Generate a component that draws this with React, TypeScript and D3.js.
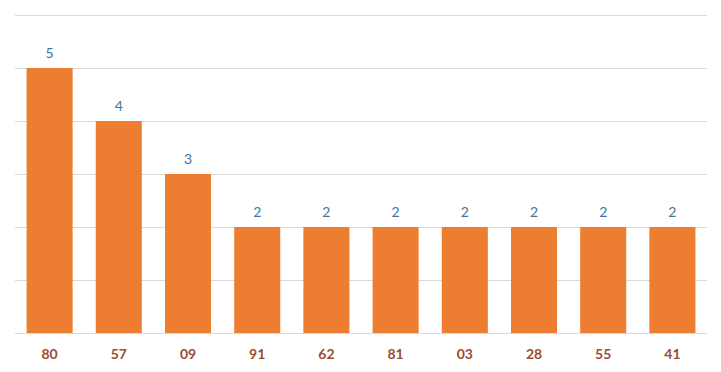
import * as d3 from 'd3'

const categories = ['80', '57', '09', '91', '62', '81', '03', '28', '55', '41']
const counts = [5, 4, 3, 2, 2, 2, 2, 2, 2, 2]
const yTicks = [0, 1, 2, 3, 4, 5, 6]

const width = 721
const height = 372
const margin = { top: 15, right: 14, bottom: 39, left: 15 }

export default function App() {
  const innerWidth = width - margin.left - margin.right
  const innerHeight = height - margin.top - margin.bottom

  const x = d3.scaleBand<string>()
    .domain(categories)
    .range([0, innerWidth])
    .paddingInner(0.335)
    .paddingOuter(0.1675)

  const y = d3.scaleLinear()
    .domain([0, 6])
    .range([innerHeight, 0])

  const font = 'Lato, "Open Sans", sans-serif'

  return (
    <svg
      width={width}
      height={height}
      style={{ position: 'absolute', left: 0, top: 0, display: 'block', background: '#fff' }}
    >
      <g transform={`translate(${margin.left},${margin.top})`}>
        {yTicks.map(t => (
          <line
            key={t}
            x1={0}
            x2={innerWidth}
            y1={Math.round(y(t)) + 0.5}
            y2={Math.round(y(t)) + 0.5}
            stroke="#d9d9d9"
            strokeWidth={1}
          />
        ))}
        {categories.map((c, i) => (
          <rect
            key={c}
            x={x(c)}
            y={y(counts[i])}
            width={x.bandwidth()}
            height={innerHeight - y(counts[i])}
            fill="#ed7d31"
          />
        ))}
        {categories.map((c, i) => (
          <text
            key={`v${c}`}
            x={(x(c) ?? 0) + x.bandwidth() / 2}
            y={y(counts[i]) - 10}
            textAnchor="middle"
            fontFamily={font}
            fontSize={14}
            fill="#44739a"
          >
            {counts[i]}
          </text>
        ))}
        {categories.map(c => (
          <text
            key={`c${c}`}
            x={(x(c) ?? 0) + x.bandwidth() / 2}
            y={innerHeight + 26}
            textAnchor="middle"
            fontFamily={font}
            fontSize={14}
            fontWeight="bold"
            fill="#9e4b30"
          >
            {c}
          </text>
        ))}
      </g>
    </svg>
  )
}
